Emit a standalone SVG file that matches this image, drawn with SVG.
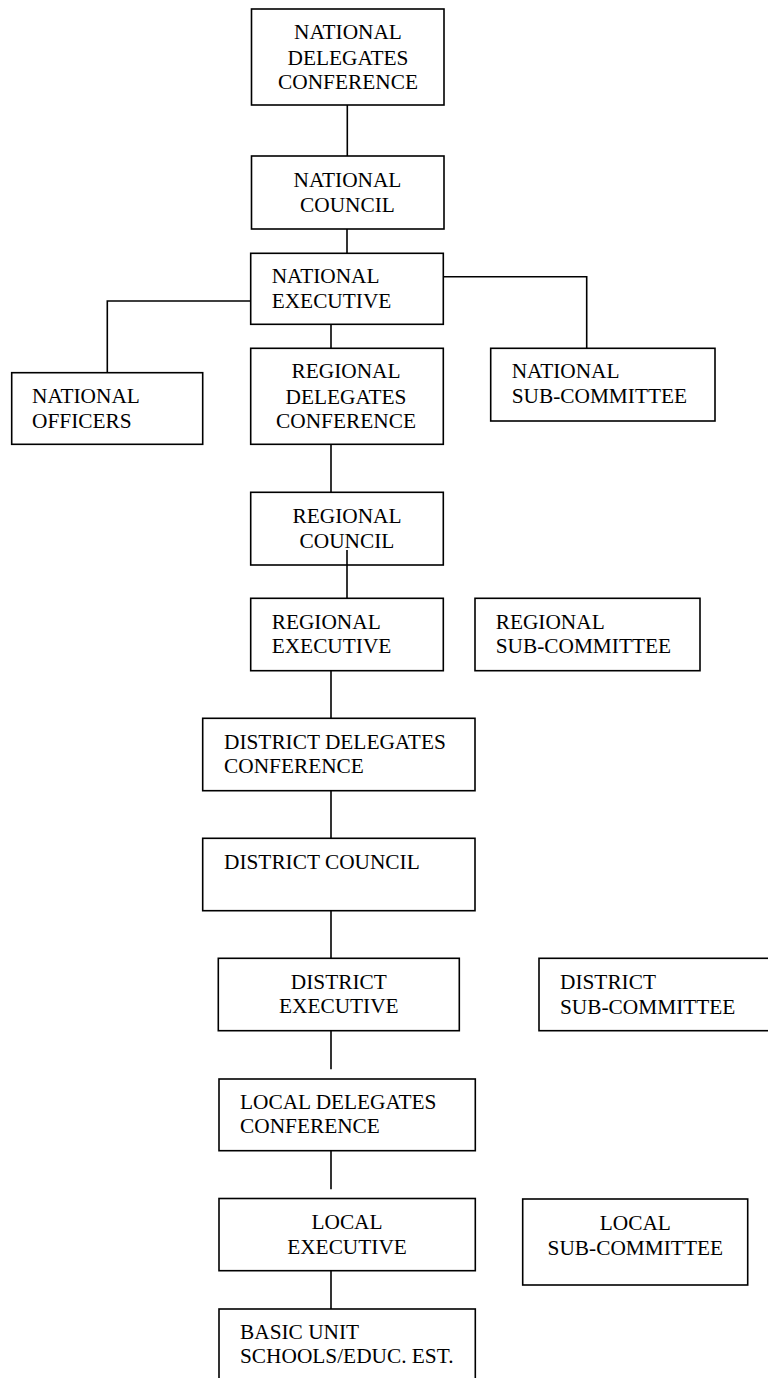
<svg xmlns="http://www.w3.org/2000/svg" width="768" height="1378" viewBox="0 0 768 1378">
<style>
  .box { fill: #ffffff; stroke: #000000; stroke-width: 1.6; }
  .t { font-family: "Liberation Serif", "Times New Roman", serif; font-size: 21.33px; fill: #000000; }
  .c { text-anchor: middle; }
  .conn { fill: none; stroke: #000000; stroke-width: 1.6; }
</style>
<rect x="0" y="0" width="768" height="1378" fill="#ffffff"/>

<g id="national-delegates-conference">
  <rect class="box" x="251.5" y="9" width="192.5" height="96"/>
  <text class="t c" x="348" y="39">NATIONAL</text>
  <text class="t c" x="348" y="64.5">DELEGATES</text>
  <text class="t c" x="348" y="89">CONFERENCE</text>
</g>
<g id="national-council">
  <rect class="box" x="251.5" y="156" width="192.5" height="73"/>
  <text class="t c" x="347.5" y="187">NATIONAL</text>
  <text class="t c" x="347.5" y="212">COUNCIL</text>
</g>
<g id="national-executive">
  <rect class="box" x="250.7" y="253.3" width="192.6" height="71"/>
  <text class="t" x="271.7" y="283.3">NATIONAL</text>
  <text class="t" x="271.7" y="308.3">EXECUTIVE</text>
</g>
<g id="national-officers">
  <rect class="box" x="11.7" y="372.7" width="191" height="71.6"/>
  <text class="t" x="32" y="403.3">NATIONAL</text>
  <text class="t" x="32" y="427.7">OFFICERS</text>
</g>
<g id="regional-delegates-conference">
  <rect class="box" x="250.7" y="348.3" width="192.6" height="96"/>
  <text class="t c" x="346" y="378.3">REGIONAL</text>
  <text class="t c" x="346" y="404">DELEGATES</text>
  <text class="t c" x="346" y="428.3">CONFERENCE</text>
</g>
<g id="national-sub-committee">
  <rect class="box" x="490.7" y="348.3" width="224.3" height="72.7"/>
  <text class="t" x="511.7" y="378.3">NATIONAL</text>
  <text class="t" x="511.7" y="403.3">SUB-COMMITTEE</text>
</g>
<g id="regional-council">
  <rect class="box" x="250.7" y="492.3" width="192.6" height="72.7"/>
  <text class="t c" x="347" y="522.7">REGIONAL</text>
  <text class="t c" x="347" y="547.7">COUNCIL</text>
</g>
<g id="regional-executive">
  <rect class="box" x="250.7" y="598.3" width="192.6" height="72.4"/>
  <text class="t" x="271.7" y="629">REGIONAL</text>
  <text class="t" x="271.7" y="653.3">EXECUTIVE</text>
</g>
<g id="regional-sub-committee">
  <rect class="box" x="475" y="598.3" width="225" height="72.4"/>
  <text class="t" x="495.7" y="629">REGIONAL</text>
  <text class="t" x="495.7" y="653.3">SUB-COMMITTEE</text>
</g>
<g id="district-delegates-conference">
  <rect class="box" x="202.7" y="718.3" width="272.3" height="72.4"/>
  <text class="t" x="224" y="749">DISTRICT DELEGATES</text>
  <text class="t" x="224" y="773.3">CONFERENCE</text>
</g>
<g id="district-council">
  <rect class="box" x="202.7" y="838.3" width="272.3" height="72.4"/>
  <text class="t" x="224" y="869">DISTRICT COUNCIL</text>
</g>
<g id="district-executive">
  <rect class="box" x="218.3" y="958.3" width="241" height="72.4"/>
  <text class="t c" x="338.8" y="989.3">DISTRICT</text>
  <text class="t c" x="338.8" y="1013.3">EXECUTIVE</text>
</g>
<g id="district-sub-committee">
  <rect class="box" x="539" y="958.3" width="240" height="72.4"/>
  <text class="t" x="560" y="989.3">DISTRICT</text>
  <text class="t" x="560" y="1014">SUB-COMMITTEE</text>
</g>
<g id="local-delegates-conference">
  <rect class="box" x="219" y="1079" width="256.3" height="71.7"/>
  <text class="t" x="240" y="1109.3">LOCAL DELEGATES</text>
  <text class="t" x="240" y="1133.3">CONFERENCE</text>
</g>
<g id="local-executive">
  <rect class="box" x="219" y="1198.5" width="256.3" height="72.2"/>
  <text class="t c" x="347" y="1229.3">LOCAL</text>
  <text class="t c" x="347" y="1253.5">EXECUTIVE</text>
</g>
<g id="local-sub-committee">
  <rect class="box" x="522.7" y="1199" width="225" height="86"/>
  <text class="t c" x="635.3" y="1230">LOCAL</text>
  <text class="t c" x="635.3" y="1254.5">SUB-COMMITTEE</text>
</g>
<g id="basic-unit">
  <rect class="box" x="219" y="1309" width="256.3" height="90"/>
  <text class="t" x="240" y="1339.3">BASIC UNIT</text>
  <text class="t" x="240" y="1363.3">SCHOOLS/EDUC. EST.</text>
</g>

<g id="connectors">
  <line class="conn" x1="347.3" y1="105" x2="347.3" y2="156"/>
  <line class="conn" x1="347" y1="229" x2="347" y2="253.3"/>
  <polyline class="conn" points="250.7,301 107.3,301 107.3,372.7"/>
  <polyline class="conn" points="443.3,276.7 586.7,276.7 586.7,348.3"/>
  <line class="conn" x1="331" y1="324.3" x2="331" y2="348.3"/>
  <line class="conn" x1="331" y1="444.3" x2="331" y2="492.3"/>
  <line class="conn" x1="347" y1="550" x2="347" y2="598.3"/>
  <line class="conn" x1="331" y1="670.7" x2="331" y2="718.3"/>
  <line class="conn" x1="331" y1="790.7" x2="331" y2="838.3"/>
  <line class="conn" x1="331" y1="910.7" x2="331" y2="958.3"/>
  <line class="conn" x1="331" y1="1030.7" x2="331" y2="1069.3"/>
  <line class="conn" x1="331" y1="1150.7" x2="331" y2="1189.3"/>
  <line class="conn" x1="331" y1="1270.7" x2="331" y2="1309"/>
</g>
</svg>
